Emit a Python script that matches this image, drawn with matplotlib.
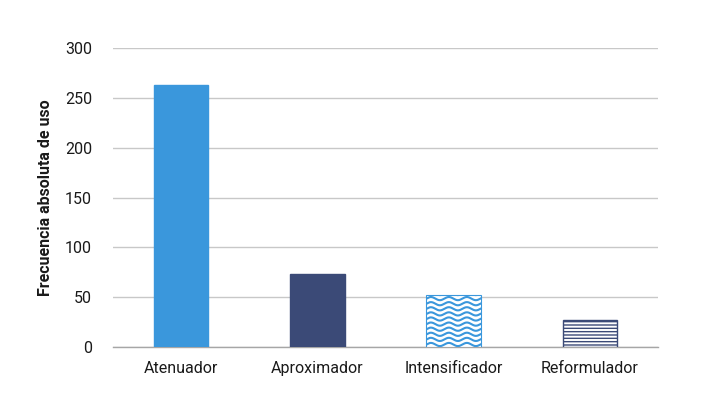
import numpy as np
import matplotlib
matplotlib.use("Agg")
import matplotlib.pyplot as plt

plt.rcParams["font.family"] = ["Roboto", "DejaVu Sans"]

categories = ["Atenuador", "Aproximador", "Intensificador", "Reformulador"]
values = [263, 73, 52, 27]
y_ticks = [0, 50, 100, 150, 200, 250, 300]

BLUE = "#3a97dc"
NAVY = "#3b4a77"

W, H = 720, 399
fig = plt.figure(figsize=(W / 100, H / 100), dpi=100)
ax = fig.add_axes([113 / W, 1 - 347 / H, 545 / W, 299 / H])

x = np.arange(len(categories))
bars = ax.bar(x, values, width=0.4, zorder=3)

bars[0].set_facecolor(BLUE)
bars[0].set_edgecolor(BLUE)
bars[1].set_facecolor(NAVY)
bars[1].set_edgecolor(NAVY)

# wavy pattern, clipped to the bar
bars[2].set_facecolor("white")
bars[2].set_edgecolor(BLUE)
bars[2].set_linewidth(0.8)

# horizontal stripes
plt.rcParams["hatch.linewidth"] = 1.4
bars[3].set_facecolor("white")
bars[3].set_edgecolor(NAVY)
bars[3].set_hatch("-----")

ax.set_xlim(-0.5, len(categories) - 0.5)
ax.set_ylim(0, 300)

# pixel -> data conversion for the wave pattern
px_x = len(categories) / 545
px_y = 300 / 299
b = bars[2]
x0, bw, h = b.get_x(), b.get_width(), b.get_height()
xs = np.linspace(x0 - 0.02, x0 + bw + 0.02, 200)
period = 18 * px_x
amp = 1.6 * px_y
for yy in np.arange(2.5 * px_y, h + 5 * px_y, 5.1 * px_y):
    ln, = ax.plot(xs, yy + amp * np.sin(2 * np.pi * (xs - x0) / period),
                  color=BLUE, lw=1.5, zorder=4, solid_capstyle="butt")
    ln.set_clip_path(b)

ax.set_yticks(y_ticks)
ax.set_xticks(x)
ax.set_xticklabels(categories)
ax.yaxis.grid(True, color="#c8c8c8", lw=1.0, zorder=0)
ax.set_axisbelow(True)
for s in ["top", "right", "left"]:
    ax.spines[s].set_visible(False)
ax.spines["bottom"].set_color("#a6a6a6")
ax.spines["bottom"].set_linewidth(1.0)
ax.tick_params(axis="both", length=0, labelsize=11.5, colors="#1a1a1a")
ax.tick_params(axis="y", pad=15)
ax.tick_params(axis="x", pad=10)
ax.set_ylabel("Frecuencia absoluta de uso", fontsize=11.5, fontweight="bold",
              color="#1a1a1a", labelpad=9)

fig.savefig("out.png", dpi=100)
